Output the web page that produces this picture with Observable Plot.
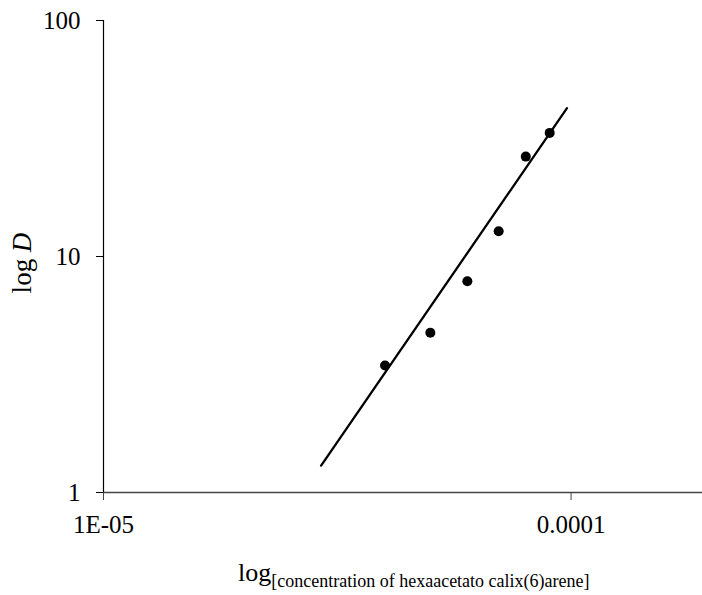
<!DOCTYPE html>
<html>
<head>
<meta charset="utf-8">
<script src="https://cdn.jsdelivr.net/npm/d3@7"></script>
<script src="https://cdn.jsdelivr.net/npm/@observablehq/plot@0.6"></script>
<style>
  html, body { margin: 0; padding: 0; background: white; }
</style>
</head>
<body>
<div id="chart"></div>
<script>
// Data
const concentration = [4e-5, 5e-5, 6e-5, 7e-5, 8e-5, 9e-5];
const logD = [3.45, 4.75, 7.86, 12.8, 26.5, 33.4];
// Fitted trend line end points
const fitX = [2.92e-5, 9.8e-5];
const fitY = [1.30, 42.5];
// Axis ticks and labels
const xTicks = [1e-5, 1e-4];
const xTickLabels = ["1E-05", "0.0001"];
const yTicks = [1, 10, 100];
const yTickLabels = ["1", "10", "100"];
const xLabelMain = "log";
const xLabelSub = "[concentration of hexaacetato calix(6)arene]";
const yLabelMain = "log ";
const yLabelItalic = "D";

const points = concentration.map((c, i) => ({c, d: logD[i]}));
const fit = fitX.map((x, i) => ({x, y: fitY[i]}));

const font = "'Liberation Serif', 'Times New Roman', serif";

const svg = Plot.plot({
  width: 702,
  height: 595,
  marginLeft: 103,
  marginRight: 0,
  marginTop: 20,
  marginBottom: 103,
  style: {fontFamily: font, background: "white", color: "black"},
  x: {type: "log", domain: [1e-5, 1.91e-4]},
  y: {type: "log", domain: [1, 100]},
  marks: [
    Plot.ruleY([1], {stroke: "#444", strokeWidth: 1.4}),
    Plot.ruleX([1e-5], {stroke: "black", strokeWidth: 1.2}),
    Plot.axisX(xTicks, {
      tickFormat: d => xTickLabels[xTicks.indexOf(d)],
      tickSize: 8, tickPadding: 15, fontSize: 25, label: null, stroke: "#444"
    }),
    Plot.axisY(yTicks, {
      tickFormat: d => yTickLabels[yTicks.indexOf(d)],
      tickSize: 7, tickPadding: 16, fontSize: 25, label: null
    }),
    Plot.line(fit, {x: "x", y: "y", stroke: "black", strokeWidth: 2.3}),
    Plot.dot(points, {x: "c", y: "d", r: 5, fill: "black", stroke: "none"})
  ]
});

const s = d3.select(svg);
const xl = s.append("text")
  .attr("x", 238)
  .attr("y", 581)
  .attr("text-anchor", "start")
  .attr("fill", "black")
  .style("font-family", font)
  .style("font-size", "26px");
xl.append("tspan").text(xLabelMain);
xl.append("tspan").attr("dy", 6).style("font-size", "18px").text(xLabelSub);

const yl = s.append("text")
  .attr("transform", "translate(31,263) rotate(-90)")
  .attr("text-anchor", "middle")
  .attr("fill", "black")
  .style("font-family", font)
  .style("font-size", "27px");
yl.append("tspan").text(yLabelMain);
yl.append("tspan").style("font-style", "italic").text(yLabelItalic);

document.getElementById("chart").appendChild(svg);
</script>
</body>
</html>
